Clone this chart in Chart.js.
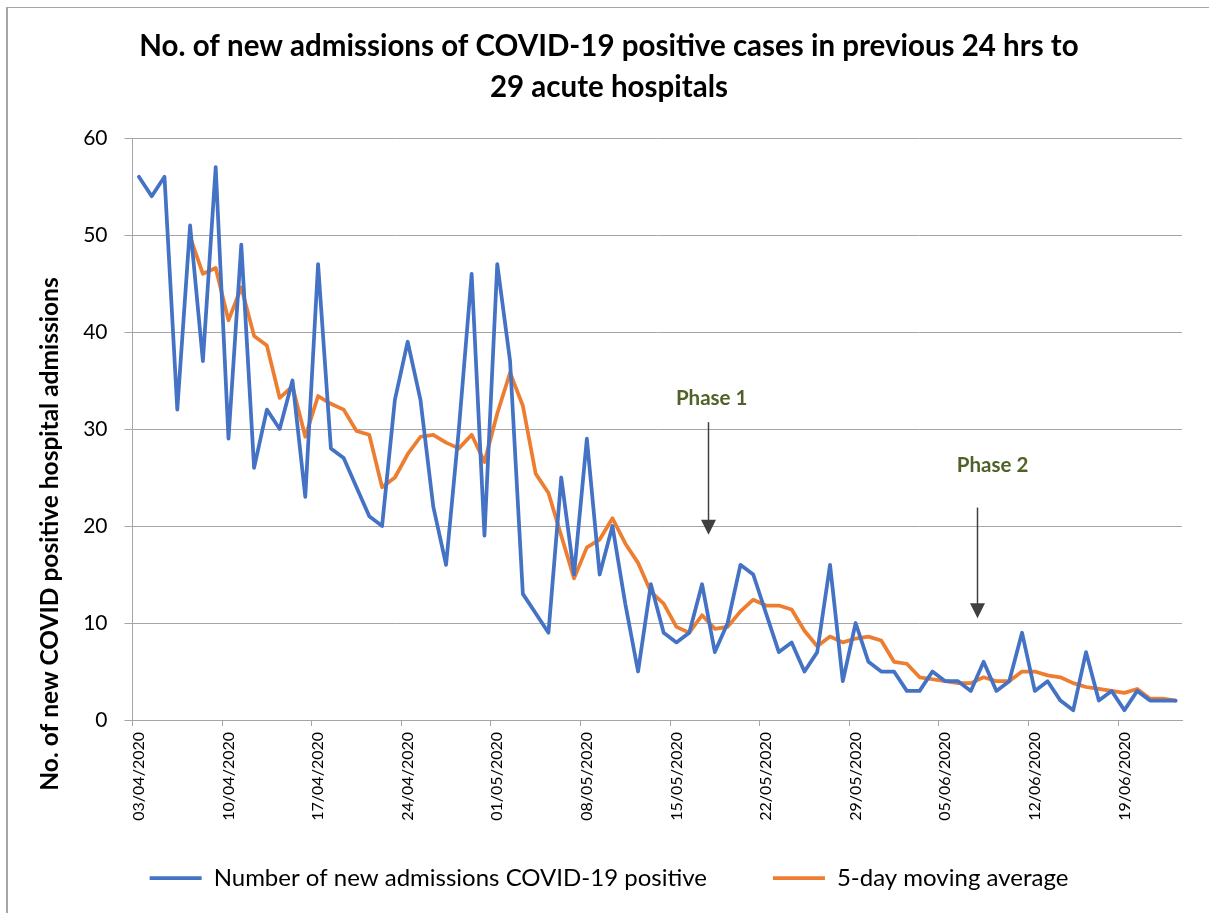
<!DOCTYPE html>
<html>
<head>
<meta charset="utf-8">
<script src="https://cdn.jsdelivr.net/npm/chart.js@4.4.1/dist/chart.umd.min.js"></script>
<style>
  html, body { margin: 0; padding: 0; background: #ffffff; }
  #wrap { position: relative; width: 1209px; height: 913px; overflow: hidden; }
  #frame { position: absolute; left: 6px; top: 7px; width: 1300px; height: 1000px;
           border-left: 2px solid #a6a6a6; border-top: 1px solid #a6a6a6; }
  #c { position: absolute; left: 0; top: 0; }
</style>
</head>
<body>
<div id="wrap">
  <div id="frame"></div>
  <canvas id="c" width="1209" height="913"></canvas>
</div>
<script>
// Daily dates, 03/04/2020 to 23/06/2020
const dates = [
  '03/04/2020','04/04/2020','05/04/2020','06/04/2020','07/04/2020','08/04/2020','09/04/2020',
  '10/04/2020','11/04/2020','12/04/2020','13/04/2020','14/04/2020','15/04/2020','16/04/2020',
  '17/04/2020','18/04/2020','19/04/2020','20/04/2020','21/04/2020','22/04/2020','23/04/2020',
  '24/04/2020','25/04/2020','26/04/2020','27/04/2020','28/04/2020','29/04/2020','30/04/2020',
  '01/05/2020','02/05/2020','03/05/2020','04/05/2020','05/05/2020','06/05/2020','07/05/2020',
  '08/05/2020','09/05/2020','10/05/2020','11/05/2020','12/05/2020','13/05/2020','14/05/2020',
  '15/05/2020','16/05/2020','17/05/2020','18/05/2020','19/05/2020','20/05/2020','21/05/2020',
  '22/05/2020','23/05/2020','24/05/2020','25/05/2020','26/05/2020','27/05/2020','28/05/2020',
  '29/05/2020','30/05/2020','31/05/2020','01/06/2020','02/06/2020','03/06/2020','04/06/2020',
  '05/06/2020','06/06/2020','07/06/2020','08/06/2020','09/06/2020','10/06/2020','11/06/2020',
  '12/06/2020','13/06/2020','14/06/2020','15/06/2020','16/06/2020','17/06/2020','18/06/2020',
  '19/06/2020','20/06/2020','21/06/2020','22/06/2020','23/06/2020'
];

// New admissions of COVID-19 positive cases per day
const admissions = [
  56, 54, 56, 32, 51, 37, 57, 29, 49, 26,
  32, 30, 35, 23, 47, 28, 27, 24, 21, 20,
  33, 39, 33, 22, 16, 30, 46, 19, 47, 37,
  13, 11,  9, 25, 15, 29, 15, 20, 12,  5,
  14,  9,  8,  9, 14,  7, 10, 16, 15, 11,
   7,  8,  5,  7, 16,  4, 10,  6,  5,  5,
   3,  3,  5,  4,  4,  3,  6,  3,  4,  9,
   3,  4,  2,  1,  7,  2,  3,  1,  3,  2,
   2,  2
];

// 5-day moving average (first value on the fifth day)
const movingAverage = [
  null, null, null, null, 49.8, 46.0, 46.6, 41.2, 44.6, 39.6,
  38.6, 33.2, 34.4, 29.2, 33.4, 32.6, 32.0, 29.8, 29.4, 24.0,
  25.0, 27.4, 29.2, 29.4, 28.6, 28.0, 29.4, 26.6, 31.6, 35.8,
  32.4, 25.4, 23.4, 19.0, 14.6, 17.8, 18.6, 20.8, 18.2, 16.2,
  13.2, 12.0,  9.6,  9.0, 10.8,  9.4,  9.6, 11.2, 12.4, 11.8,
  11.8, 11.4,  9.2,  7.6,  8.6,  8.0,  8.4,  8.6,  8.2,  6.0,
   5.8,  4.4,  4.2,  4.0,  3.8,  3.8,  4.4,  4.0,  4.0,  5.0,
   5.0,  4.6,  4.4,  3.8,  3.4,  3.2,  3.0,  2.8,  3.2,  2.2,
   2.2,  2.0
];

// Reopening phases: start date, arrow span (in admissions units) and label anchor
const phaseNames     = ['Phase 1', 'Phase 2'];
const phaseDates     = ['18/05/2020', '08/06/2020'];
const phaseArrowFrom = [30.7, 21.9];
const phaseArrowTo   = [19.1, 10.5];
const phaseLabelAt   = [44.75, 66.7];
const phaseLabelY    = [33.2, 26.3];

const yAxisTitleText = 'No. of new COVID positive hospital admissions';

const FONT = 'Lato, "Open Sans", sans-serif';
const AXIS_GREY = '#a6a6a6';

const phaseArrows = {
  id: 'phaseArrows',
  afterDatasetsDraw(chart) {
    const { ctx, scales: { x, y } } = chart;
    ctx.save();
    phaseNames.forEach((name, k) => {
      const px = Math.round(x.getPixelForValue(dates.indexOf(phaseDates[k]) - 0.5)) + 0.5;
      const top = y.getPixelForValue(phaseArrowFrom[k]);
      const tip = y.getPixelForValue(phaseArrowTo[k]);
      const head = 15;
      ctx.strokeStyle = '#404040';
      ctx.fillStyle = '#404040';
      ctx.lineWidth = 1.5;
      ctx.beginPath();
      ctx.moveTo(px, top);
      ctx.lineTo(px, tip - head + 2);
      ctx.stroke();
      ctx.beginPath();
      ctx.moveTo(px - head / 2, tip - head);
      ctx.lineTo(px + head / 2, tip - head);
      ctx.lineTo(px, tip);
      ctx.closePath();
      ctx.fill();

      ctx.fillStyle = '#4f6228';
      ctx.font = 'bold 20.5px ' + FONT;
      ctx.textAlign = 'center';
      ctx.textBaseline = 'middle';
      ctx.fillText(name, x.getPixelForValue(phaseLabelAt[k]), y.getPixelForValue(phaseLabelY[k]));
    });
    ctx.restore();
  }
};

// Vertical axis title, set lower than the plot's mid-height
const yAxisTitle = {
  id: 'yAxisTitle',
  afterDraw(chart) {
    const { ctx, chartArea } = chart;
    ctx.save();
    ctx.translate(chartArea.left - 82.5, (chartArea.top + chartArea.bottom) / 2 + 105);
    ctx.rotate(-Math.PI / 2);
    ctx.font = 'bold 24.5px ' + FONT;
    ctx.fillStyle = '#000000';
    ctx.textAlign = 'center';
    ctx.textBaseline = 'middle';
    ctx.fillText(yAxisTitleText, 0, 0);
    ctx.restore();
  }
};

new Chart(document.getElementById('c'), {
  type: 'line',
  data: {
    labels: dates,
    datasets: [
      {
        label: 'Number of new admissions COVID-19 positive',
        data: admissions,
        borderColor: '#4472c4',
        backgroundColor: '#4472c4',
        borderWidth: 3.75,
        borderJoinStyle: 'round',
        borderCapStyle: 'round',
        pointRadius: 0,
        tension: 0
      },
      {
        label: '5-day moving average',
        data: movingAverage,
        borderColor: '#ed7d31',
        backgroundColor: '#ed7d31',
        borderWidth: 3.75,
        borderJoinStyle: 'round',
        borderCapStyle: 'round',
        pointRadius: 0,
        tension: 0
      }
    ]
  },
  options: {
    responsive: false,
    animation: false,
    devicePixelRatio: 1,
    layout: { padding: { top: 26, right: 27, bottom: 13, left: 36 } },
    plugins: {
      title: {
        display: true,
        text: ['No. of new admissions of COVID-19 positive cases in previous 24 hrs to', '29 acute hospitals'],
        color: '#000000',
        font: { family: FONT, size: 29.5, weight: 'bold', lineHeight: 1.39 },
        padding: { top: 0, bottom: 30 }
      },
      legend: {
        position: 'bottom',
        // empty title with negative padding pulls the legend row up towards the axis labels
        title: { display: true, text: '', font: { size: 12 }, padding: { top: -39.4, bottom: 0 } },
        labels: {
          usePointStyle: true,
          pointStyle: 'line',
          pointStyleWidth: 52,
          color: '#000000',
          font: { family: FONT, size: 24 },
          padding: 66
        }
      },
      tooltip: { enabled: false }
    },
    scales: {
      x: {
        type: 'category',
        offset: true,
        afterFit(scale) { scale.height = 105; },
        grid: {
          offset: true,
          drawOnChartArea: false,
          drawTicks: true,
          tickLength: 6,
          color: (ctx) => (ctx.index % 7 === 0 ? AXIS_GREY : 'rgba(0,0,0,0)')
        },
        border: { display: true, color: AXIS_GREY, width: 1 },
        ticks: {
          autoSkip: false,
          minRotation: 90,
          maxRotation: 90,
          padding: 6,
          color: '#000000',
          font: { family: FONT, size: 16 },
          callback(value, index) {
            return index % 7 === 0 ? dates[index] : '';
          }
        }
      },
      y: {
        min: 0,
        max: 60,
        // leave room on the left for the axis title
        afterFit(scale) { scale.width = 96.5; },
        grid: { color: AXIS_GREY, tickLength: 8, lineWidth: 1 },
        border: { display: true, color: AXIS_GREY, width: 1 },
        ticks: {
          stepSize: 10,
          padding: 17,
          color: '#000000',
          font: { family: FONT, size: 21 }
        }
      }
    }
  },
  plugins: [phaseArrows, yAxisTitle]
});
</script>
</body>
</html>
